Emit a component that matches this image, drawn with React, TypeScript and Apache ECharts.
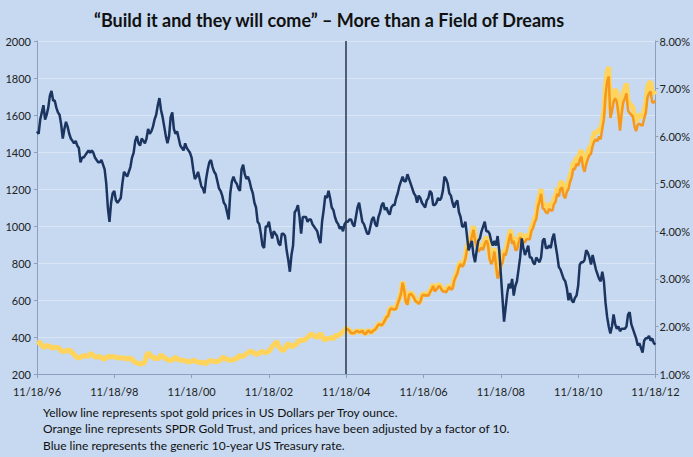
import React, { useEffect, useRef } from "react";
import * as echarts from "echarts";

// x positions: years since 11/18/96, one value every half month
const xTickLabels = ["11/18/96", "11/18/98", "11/18/00", "11/18/02", "11/18/04", "11/18/06", "11/18/08", "11/18/10", "11/18/12"];
const halfMonth = 1 / 24;
const gldStartIndex = 192; // SPDR Gold Trust starts 11/18/04
const gldLaunchOffset = 8;

// Generic 10-year US Treasury rate (%), half-monthly from 11/18/96
const treasuryRate = [
  6.10, 6.05, 6.35,
  6.50, 6.65, 6.35, 6.45, 6.60, 6.85, 6.95, 6.75, 6.75, 6.60, 6.50, 6.45, 6.25, 5.95, 6.15, 6.30, 6.20, 6.05, 5.95, 5.90, 5.85, 5.90, 5.80, 5.75,
  5.45, 5.55, 5.55, 5.60, 5.65, 5.70, 5.65, 5.70, 5.65, 5.55, 5.50, 5.45, 5.45, 5.50, 5.40, 5.30, 5.00, 4.50, 4.20, 4.60, 4.80, 4.85, 4.65, 4.60,
  4.65, 4.70, 5.00, 5.25, 5.20, 5.15, 5.25, 5.35, 5.55, 5.65, 5.90, 6.00, 5.85, 5.80, 5.95, 5.90, 5.85, 5.95, 6.15, 6.05, 6.10, 6.20, 6.35, 6.45,
  6.65, 6.80, 6.55, 6.40, 6.20, 6.00, 5.85, 6.00, 6.40, 6.50, 6.15, 6.05, 6.10, 5.95, 5.80, 5.75, 5.70, 5.85, 5.75, 5.70, 5.65, 5.55, 5.30, 5.10,
  5.15, 5.25, 5.10, 4.95, 4.90, 4.80, 5.10, 5.30, 5.45, 5.50, 5.35, 5.25, 5.20, 5.05, 4.90, 4.85, 4.75, 4.60, 4.55, 4.40, 4.25, 4.80, 5.05, 5.15,
  5.05, 5.00, 4.90, 4.85, 5.30, 5.40, 5.20, 5.10, 5.15, 5.05, 4.90, 4.80, 4.60, 4.50, 4.20, 4.15, 3.95, 3.70, 3.65, 4.10, 4.10, 4.20, 4.00, 3.85,
  4.00, 3.95, 3.90, 3.75, 3.70, 3.95, 3.95, 3.90, 3.60, 3.40, 3.15, 3.50, 3.70, 4.40, 4.45, 4.55, 4.30, 3.95, 4.30, 4.30, 4.30, 4.20, 4.25, 4.25,
  4.15, 4.10, 4.05, 4.00, 3.85, 3.75, 4.20, 4.45, 4.75, 4.70, 4.85, 4.70, 4.50, 4.45, 4.30, 4.20, 4.15, 4.05, 4.10, 4.00, 4.15, 4.20, 4.20, 4.25,
  4.25, 4.15, 4.10, 4.30, 4.50, 4.60, 4.40, 4.20, 4.15, 4.05, 3.95, 3.95, 4.10, 4.25, 4.30, 4.15, 4.10, 4.30, 4.40, 4.55, 4.60, 4.45, 4.50, 4.40,
  4.35, 4.50, 4.55, 4.55, 4.70, 4.80, 4.95, 5.05, 5.15, 5.05, 5.05, 5.20, 5.10, 5.00, 4.90, 4.80, 4.75, 4.60, 4.75, 4.70, 4.60, 4.55, 4.50, 4.65,
  4.70, 4.85, 4.80, 4.55, 4.55, 4.60, 4.70, 4.65, 4.70, 4.85, 5.15, 5.10, 5.00, 4.80, 4.75, 4.60, 4.50, 4.60, 4.65, 4.40, 4.30, 4.10, 4.10, 4.20,
  3.90, 3.60, 3.70, 3.80, 3.50, 3.35, 3.60, 3.80, 3.85, 4.00, 4.10, 4.20, 4.00, 4.00, 3.95, 3.80, 3.70, 3.80, 3.70, 3.90, 3.60, 3.10, 2.60, 2.10,
  2.40, 2.70, 2.90, 2.80, 3.00, 2.65, 2.85, 2.95, 3.20, 3.45, 3.85, 3.65, 3.50, 3.60, 3.70, 3.45, 3.45, 3.35, 3.30, 3.45, 3.40, 3.35, 3.45, 3.80,
  3.85, 3.65, 3.65, 3.70, 3.65, 3.85, 3.95, 3.70, 3.50, 3.25, 3.20, 3.10, 3.00, 2.95, 2.80, 2.55, 2.70, 2.55, 2.50, 2.60, 2.65, 2.85, 3.30, 3.35,
  3.35, 3.40, 3.60, 3.55, 3.45, 3.30, 3.50, 3.35, 3.20, 3.10, 3.00, 2.95, 3.15, 2.95, 2.50, 2.20, 2.00, 1.85, 2.00, 2.25, 2.05, 1.95, 2.00, 1.90,
  1.95, 1.95, 1.95, 2.00, 2.25, 2.30, 2.05, 1.95, 1.85, 1.75, 1.60, 1.65, 1.55, 1.45, 1.70, 1.75, 1.75, 1.80, 1.70, 1.75, 1.65, 1.62,
];

// Spot gold, US$ per troy ounce, half-monthly from 11/18/96
const spotGold = [
  372, 370, 368,
  355, 346, 345, 355, 352, 348, 342, 340, 345, 344, 343, 336, 325, 322, 325, 324, 323, 332, 325, 312, 306, 297, 289, 288,
  290, 297, 297, 298, 296, 297, 310, 308, 300, 292, 292, 294, 293, 288, 284, 278, 290, 294, 296, 290, 294, 293, 291, 288,
  287, 287, 288, 286, 286, 280, 282, 286, 280, 270, 262, 261, 256, 254, 256, 258, 265, 300, 315, 305, 294, 292, 282, 288,
  284, 285, 305, 295, 290, 280, 280, 275, 275, 272, 285, 290, 282, 278, 275, 275, 274, 270, 270, 265, 266, 270, 272, 274,
  266, 264, 262, 260, 265, 258, 256, 264, 272, 272, 270, 268, 266, 268, 272, 275, 290, 288, 283, 279, 276, 274, 276, 278,
  282, 282, 296, 300, 294, 296, 302, 308, 314, 324, 320, 318, 313, 304, 310, 312, 319, 322, 317, 315, 319, 322, 333, 348,
  357, 368, 375, 350, 340, 328, 328, 336, 355, 365, 356, 346, 351, 358, 360, 375, 379, 385, 379, 386, 389, 398, 407, 415,
  414, 404, 405, 396, 406, 420, 404, 388, 384, 392, 392, 393, 398, 390, 400, 412, 406, 415, 420, 428, 439, 448, 442, 436,
  424, 422, 423, 432, 434, 428, 429, 436, 422, 417, 430, 438, 424, 428, 438, 442, 456, 470, 470, 466, 476, 493, 510, 515,
  549, 560, 555, 553, 557, 585, 610, 640, 700, 660, 596, 580, 633, 640, 632, 620, 599, 595, 585, 595, 627, 635, 629, 632,
  631, 650, 665, 685, 655, 665, 679, 685, 667, 655, 655, 650, 665, 680, 665, 670, 712, 735, 754, 790, 806, 790, 803, 835,
  889, 910, 922, 960, 1000, 940, 909, 880, 888, 900, 889, 920, 940, 920, 839, 810, 829, 880, 806, 730, 760, 800, 816, 870,
  858, 900, 943, 980, 924, 940, 890, 890, 928, 960, 946, 930, 934, 950, 949, 950, 996, 1010, 1043, 1060, 1127, 1160, 1200, 1120,
  1118, 1100, 1095, 1120, 1113, 1110, 1148, 1160, 1205, 1190, 1232, 1240, 1193, 1180, 1215, 1230, 1271, 1295, 1343, 1340, 1370, 1360, 1391, 1410,
  1356, 1330, 1372, 1400, 1424, 1430, 1473, 1500, 1510, 1500, 1528, 1510, 1572, 1620, 1756, 1830, 1860, 1630, 1665, 1720, 1739, 1720, 1652, 1560,
  1656, 1720, 1742, 1770, 1673, 1660, 1650, 1640, 1585, 1560, 1596, 1600, 1594, 1590, 1630, 1660, 1744, 1770, 1780, 1720, 1720, 1730,
];

// SPDR Gold Trust x 10, half-monthly from 11/18/04
const spdrGoldX10 = [
  446, 440, 434,
  422, 420, 421, 430, 432, 426, 427, 434, 420, 415, 428, 436, 422, 426, 436, 440, 453, 467, 467, 463, 473, 490, 507, 512,
  545, 555, 550, 548, 552, 580, 604, 634, 693, 654, 590, 574, 627, 634, 626, 614, 593, 589, 579, 589, 621, 629, 623, 626,
  622, 641, 656, 676, 646, 656, 670, 676, 658, 646, 646, 641, 656, 671, 656, 661, 702, 725, 743, 779, 794, 779, 791, 823,
  872, 892, 904, 941, 980, 921, 891, 862, 870, 882, 871, 902, 921, 902, 822, 794, 812, 862, 790, 715, 745, 784, 800, 853,
  840, 880, 922, 958, 904, 919, 870, 870, 908, 939, 925, 910, 913, 929, 928, 929, 974, 988, 1020, 1037, 1102, 1134, 1174, 1096,
  1090, 1073, 1068, 1092, 1085, 1082, 1119, 1131, 1175, 1160, 1201, 1209, 1163, 1150, 1185, 1199, 1239, 1263, 1309, 1307, 1336, 1326, 1356, 1375,
  1318, 1293, 1334, 1361, 1384, 1390, 1432, 1458, 1468, 1458, 1485, 1468, 1528, 1575, 1707, 1779, 1808, 1584, 1618, 1672, 1690, 1672, 1606, 1516,
  1607, 1668, 1690, 1717, 1623, 1610, 1601, 1591, 1537, 1513, 1548, 1552, 1546, 1542, 1581, 1610, 1692, 1717, 1727, 1668, 1668, 1678,
];

const titleText = "\u201cBuild it and they will come\u201d \u2013 More than a Field of Dreams";
const footnotes = [
  "Yellow line represents spot gold prices in US Dollars per Troy ounce.",
  "Orange line represents SPDR Gold Trust, and prices have been adjusted by a factor of 10.",
  "Blue line represents the generic 10-year US Treasury rate.",
];

const FONT = "Lato, 'Open Sans', sans-serif";

export default function App() {
  const ref = useRef<HTMLDivElement>(null);
  useEffect(() => {
    if (!ref.current) return;
    const chart = echarts.init(ref.current, undefined, { renderer: "svg" });
    const goldData = spotGold.map((v, i) => [i * halfMonth, v]);
    const spdrData = spdrGoldX10.map((v, i) => [(gldStartIndex + i) * halfMonth, v]);
    const rateData = treasuryRate.map((v, i) => [i * halfMonth, v]);
    chart.setOption({
      animation: false,
      backgroundColor: "#c6d9f0",
      textStyle: { fontFamily: FONT },
      grid: { left: 37, right: 37, top: 41, bottom: 83, containLabel: false },
      xAxis: {
        type: "value",
        min: 0,
        max: 16,
        interval: 2,
        axisLine: { show: true, lineStyle: { color: "#8aa0bd", width: 1 } },
        axisTick: { show: true, length: 4, lineStyle: { color: "#8aa0bd" } },
        splitLine: { show: false },
        axisLabel: {
          color: "#222",
          fontSize: 11,
          fontFamily: FONT,
          margin: 12,
          formatter: (v: number) => xTickLabels[Math.round(v / 2)] ?? "",
        },
      },
      yAxis: [
        {
          type: "value",
          min: 200,
          max: 2000,
          interval: 200,
          position: "left",
          axisLine: { show: true, lineStyle: { color: "#8aa0bd", width: 1 } },
          axisTick: { show: true, length: 3, lineStyle: { color: "#8aa0bd" } },
          splitLine: { show: true, lineStyle: { color: "#dbe6f4", width: 1 } },
          axisLabel: {
            color: "#222",
            fontSize: 11,
            fontFamily: FONT,
            margin: 6,
            formatter: (v: number) => String(v),
          },
        },
        {
          type: "value",
          min: 1,
          max: 8,
          interval: 1,
          position: "right",
          axisLine: { show: true, lineStyle: { color: "#8aa0bd", width: 1 } },
          axisTick: { show: true, length: 3, lineStyle: { color: "#8aa0bd" } },
          splitLine: { show: false },
          axisLabel: {
            color: "#222",
            fontSize: 11,
            fontFamily: FONT,
            margin: 4,
            formatter: (v: number) => v.toFixed(2) + "%",
          },
        },
      ],
      series: [
        {
          name: "Spot gold",
          type: "line",
          yAxisIndex: 0,
          data: goldData,
          showSymbol: false,
          lineStyle: { color: "#ffd45c", width: 5 },
          z: 2,
          markLine: {
            silent: true,
            symbol: ["none", "none"],
            label: { show: false },
            lineStyle: { color: "#2a3548", width: 1.5, type: "solid" },
            data: [{ xAxis: gldLaunchOffset }],
          },
        },
        {
          name: "SPDR Gold Trust x10",
          type: "line",
          yAxisIndex: 0,
          data: spdrData,
          showSymbol: false,
          lineStyle: { color: "#f4981f", width: 2.5 },
          z: 3,
        },
        {
          name: "10-year US Treasury",
          type: "line",
          yAxisIndex: 1,
          data: rateData,
          showSymbol: false,
          lineStyle: { color: "#1c3560", width: 2.5 },
          z: 4,
        },
      ],
      graphic: [
        {
          type: "text",
          x: 329,
          y: 20,
          style: {
            text: titleText,
            font: `bold 18px ${FONT}`,
            fill: "#111",
            textAlign: "center",
            textVerticalAlign: "middle",
          },
        },
        ...footnotes.map((t, i) => ({
          type: "text",
          x: 43,
          y: 412 + i * 16.5,
          style: {
            text: t,
            font: `12px ${FONT}`,
            fill: "#111",
            textAlign: "left",
            textVerticalAlign: "middle",
          },
        })),
      ],
    });
    return () => chart.dispose();
  }, []);
  return (
    <div
      ref={ref}
      style={{ position: "fixed", left: 0, top: 0, width: 693, height: 457 }}
    />
  );
}
